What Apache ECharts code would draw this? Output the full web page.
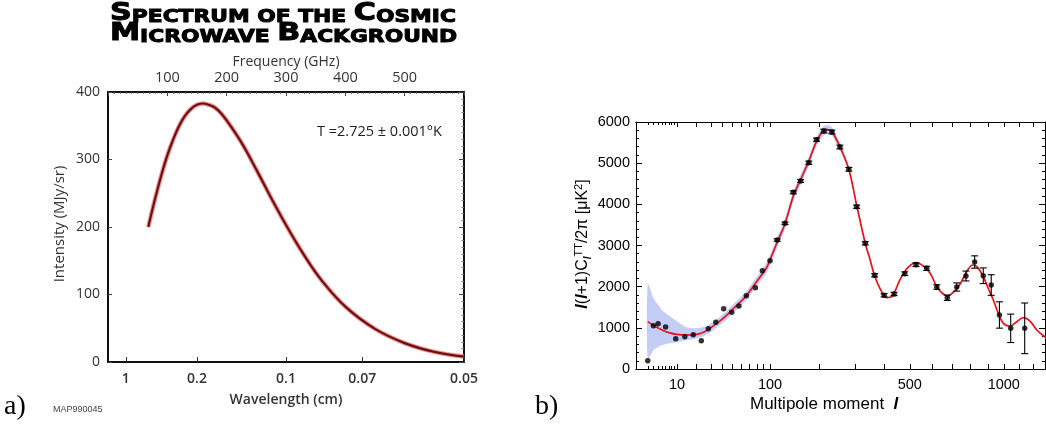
<!DOCTYPE html>
<html><head><meta charset="utf-8">
<script src="https://cdn.jsdelivr.net/npm/echarts@6/dist/echarts.min.js"></script>
<style>html,body{margin:0;padding:0;background:#fff}#c{width:1046px;height:425px}</style>
</head><body><div id="c"></div>
<script>
// ---------- Panel a: CMB spectrum ----------
const specFreq = [68,70,80,90,100,110,120,130,140,150,160,170,180,190,200,225,250,275,300,330,360,400,450,500,550,600];
const specInt  = [200,208,244,277,306,330,350,365,375,381,383,381,377,369,358,325,285,243,203,159,121,82,49,28,15,8];
const freqTickLabels = [100,200,300,400,500];
const wavelengthTicks = [1,0.2,0.1,0.07,0.05];     // cm
const intensityTicks = [0,100,200,300,400];

// ---------- Panel b: CMB TT power spectrum ----------
const curveL = [2,3,5,7,10,14,20,26,34,43,53,66,79,94,100,112,126,142,157,175,193,211,222,232,254,280,304,332,348,364,385,408,430,459,490,527,560,591,623,650,675,710,742,780,812,840,873,904,934,965,997,1041,1085,1131,1180,1226,1289,1320];
const curveV = [1150,1060,947,885,840,826,842,920,1090,1287,1513,1780,2105,2446,2650,3080,3530,4200,4600,5050,5530,5790,5810,5770,5400,4850,3980,3050,2660,2260,1930,1735,1780,2162,2450,2585,2500,2324,2000,1840,1773,1880,2065,2380,2526,2470,2242,1950,1676,1350,1110,1044,1150,1246,1150,947,770,700];

const bandL  = [2,3,4,5,7,10,14,20,26,34,43,53,66,79,94,112,126,142,157,175,193,211,222,232,254,280,304,332,364];
const bandHi = [2080,1720,1560,1430,1300,1160,1020,990,1040,1190,1390,1620,1890,2220,2570,3200,3650,4320,4720,5160,5640,5900,5920,5870,5500,4920,4040,3100,2290];
const bandLo = [220,460,530,580,620,650,700,740,820,990,1180,1400,1670,1990,2320,2960,3410,4080,4480,4940,5420,5680,5700,5670,5300,4780,3920,3000,2230];

const ptL   = [2,3,4,6,9.5,13.5,18,23,28,34,41,49,57,66,78,88,100,112,126,142,157,175,193,211,232,254,280,304,332,364,398,436,479,527,575,623,675,724,774,823,873,921,972,1045,1140];
const ptV   = [202,1052,1100,1020,736,785,833,687,979,1134,1465,1377,1530,1780,1975,2388,2630,3133,3539,4292,4566,5011,5570,5781,5757,5392,4851,3942,3053,2276,1790,1822,2315,2533,2445,1992,1732,1992,2259,2599,2266,2040,1312,988,988];
const ptErr = [0,0,0,0,0,0,0,0,0,0,0,0,0,0,0,0,0,30,30,35,35,40,40,45,45,45,45,40,40,40,40,40,45,45,50,55,65,100,120,150,190,250,320,345,615];

const lLabels = [10,100,500,1000];
const lTicksLong = [10,20,30,40,50,60,70,80,90,100,200,300,400,500,600,700,800,900,1000,1100,1200,1300];
const lTicksShort = [2,3,4,5,6,7,8,9];
const clTicks = [0,1000,2000,3000,4000,5000,6000];

const T = l => Math.pow(l, 0.4);   // axis scale used by panel b (l^0.4)
const waveToFreq = w => 30 / w;     // GHz for wavelength in cm

const chart = echarts.init(document.getElementById('c'));
const fa = 'Open Sans';
const fb = 'Liberation Sans';

const bAxisX = (pos, labels, ticks, len) => ({
  gridIndex: 1, type: 'value', min: 0.84, max: 17.53, position: pos,
  axisLine: { show: true, onZero: false, lineStyle: { color: '#000', width: 1 } },
  axisTick: { show: true, inside: true, length: len, customValues: ticks.map(T), lineStyle: { color: '#000', width: 1 } },
  axisLabel: labels ? { show: true, customValues: lLabels.map(T), formatter: v => String(Math.round(Math.pow(v, 2.5))), margin: 8, fontSize: 14.5, color: '#000', fontFamily: fb } : { show: false },
  splitLine: { show: false }
});

const option = {
  backgroundColor: '#fff',
  animation: false,
  grid: [
    { left: 108, right: 582, top: 92, bottom: 63 },
    { left: 636, right: 1, top: 122, bottom: 56 }
  ],
  xAxis: [
    { gridIndex: 0, type: 'value', min: 0, max: 600, position: 'bottom',
      axisLine: { show: true, onZero: false, lineStyle: { color: '#111', width: 2 } },
      axisTick: { show: true, inside: true, length: 5, customValues: wavelengthTicks.map(waveToFreq), lineStyle: { color: '#333' } },
      axisLabel: { show: true, customValues: wavelengthTicks.map(waveToFreq),
        formatter: v => { let best = 0; wavelengthTicks.forEach((w, i) => { if (Math.abs(waveToFreq(w) - v) < Math.abs(waveToFreq(wavelengthTicks[best]) - v)) best = i; }); return String(wavelengthTicks[best]); },
        margin: 10, fontSize: 14, color: '#333', fontFamily: fa, fontWeight: 600 },
      splitLine: { show: false } },
    { gridIndex: 0, type: 'value', min: 0, max: 600, interval: 100, position: 'top',
      axisLine: { show: true, onZero: false, lineStyle: { color: '#111', width: 2 } },
      axisTick: { show: true, inside: true, length: 4, lineStyle: { color: '#444' } },
      minorTick: { show: true, splitNumber: 10, length: 2, lineStyle: { color: '#666' } },
      axisLabel: { show: true, customValues: freqTickLabels, margin: 7, fontSize: 14.5, color: '#333', fontFamily: fa },
      splitLine: { show: false } },
    bAxisX('bottom', true, lTicksLong, 5),
    bAxisX('top', false, lTicksLong, 5),
    bAxisX('bottom', false, lTicksShort, 3),
    bAxisX('top', false, lTicksShort, 3)
  ],
  yAxis: [
    { gridIndex: 0, type: 'value', min: 0, max: 400, interval: 100, position: 'left',
      axisLine: { show: true, onZero: false, lineStyle: { color: '#111', width: 2 } },
      axisTick: { show: true, inside: true, length: 4, lineStyle: { color: '#444' } },
      axisLabel: { margin: 8, fontSize: 14, color: '#333', fontFamily: fa, formatter: v => String(v) },
      splitLine: { show: false } },
    { gridIndex: 0, type: 'value', min: 0, max: 400, interval: 100, position: 'right',
      axisLine: { show: true, onZero: false, lineStyle: { color: '#111', width: 2 } },
      axisTick: { show: true, inside: true, length: 5, lineStyle: { color: '#444' } },
      minorTick: { show: true, splitNumber: 10, length: 2.5, lineStyle: { color: '#777' } },
      axisLabel: { show: false }, splitLine: { show: false } },
    { gridIndex: 1, type: 'value', min: 0, max: 6000, interval: 1000, position: 'left',
      axisLine: { show: true, onZero: false, lineStyle: { color: '#000', width: 1 } },
      axisTick: { show: true, inside: true, length: 6, lineStyle: { color: '#000' } },
      minorTick: { show: true, splitNumber: 5, length: 3, lineStyle: { color: '#000' } },
      axisLabel: { margin: 6, fontSize: 14.5, color: '#000', fontFamily: fb, formatter: v => String(v) },
      splitLine: { show: false } },
    { gridIndex: 1, type: 'value', min: 0, max: 6000, interval: 1000, position: 'right',
      axisLine: { show: true, onZero: false, lineStyle: { color: '#000', width: 1 } },
      axisTick: { show: true, inside: true, length: 6, lineStyle: { color: '#000' } },
      minorTick: { show: true, splitNumber: 5, length: 3, lineStyle: { color: '#000' } },
      axisLabel: { show: false }, splitLine: { show: false } }
  ],
  series: [
    { type: 'line', xAxisIndex: 0, yAxisIndex: 0, data: specFreq.map((f, i) => [f, specInt[i]]),
      smooth: 0.4, symbol: 'none', lineStyle: { color: '#e8797a', width: 4.5, opacity: 0.8 }, z: 2, silent: true },
    { type: 'line', xAxisIndex: 0, yAxisIndex: 0, data: specFreq.map((f, i) => [f, specInt[i]]),
      smooth: 0.4, symbol: 'none', lineStyle: { color: '#6e0f12', width: 2.2 }, z: 3, silent: true },
    { type: 'custom', xAxisIndex: 2, yAxisIndex: 2, data: [[0, 0]], z: 1, silent: true, clip: true,
      renderItem: (params, api) => {
        const pts = [];
        bandL.forEach((l, i) => pts.push(api.coord([T(l), bandHi[i]])));
        for (let i = bandL.length - 1; i >= 0; i--) pts.push(api.coord([T(bandL[i]), bandLo[i]]));
        return { type: 'polygon', shape: { points: pts, smooth: 0.25 }, style: { fill: '#c3cdf5' } };
      } },
    { type: 'line', xAxisIndex: 2, yAxisIndex: 2, data: curveL.map((l, i) => [T(l), curveV[i]]),
      smooth: 0.35, symbol: 'none', lineStyle: { color: '#e3141b', width: 1.7 }, z: 3, silent: true, clip: true },
    { type: 'custom', xAxisIndex: 2, yAxisIndex: 2, data: ptL.map((l, i) => [T(l), ptV[i], ptErr[i]]), z: 4, silent: true,
      encode: { x: 0, y: 1 },
      renderItem: (params, api) => {
        const x = api.value(0), y = api.value(1), e = api.value(2);
        if (!e) return null;
        const a = api.coord([x, y + e]), b = api.coord([x, y - e]);
        const w = 3.5, st = { stroke: '#000', lineWidth: 1.1 };
        return { type: 'group', children: [
          { type: 'line', shape: { x1: a[0], y1: a[1], x2: b[0], y2: b[1] }, style: st },
          { type: 'line', shape: { x1: a[0] - w, y1: a[1], x2: a[0] + w, y2: a[1] }, style: st },
          { type: 'line', shape: { x1: b[0] - w, y1: b[1], x2: b[0] + w, y2: b[1] }, style: st }
        ] };
      } },
    { type: 'scatter', xAxisIndex: 2, yAxisIndex: 2, data: ptL.map((l, i) => [T(l), ptV[i]]),
      symbol: 'circle', symbolSize: 5.5, itemStyle: { color: '#000' }, z: 5, silent: true }
  ],
  graphic: [
    { type: 'text', x: 110, y: 4, scaleX: 1.21, silent: true,
      style: { text: '{b|S}{s|PECTRUM OF THE }{b|C}{s|OSMIC}', fill: '#000', stroke: '#000', lineWidth: 1,
        rich: { b: { fontSize: 25, fontWeight: 'bold', fontFamily: 'DejaVu Sans', verticalAlign: 'bottom', lineHeight: 22, fill: '#000' },
                s: { fontSize: 18, fontWeight: 'bold', fontFamily: 'DejaVu Sans', verticalAlign: 'bottom', lineHeight: 22, fill: '#000' } } } },
    { type: 'text', x: 110, y: 24, scaleX: 1.21, silent: true,
      style: { text: '{b|M}{s|ICROWAVE }{b|B}{s|ACKGROUND}', fill: '#000', stroke: '#000', lineWidth: 1,
        rich: { b: { fontSize: 25, fontWeight: 'bold', fontFamily: 'DejaVu Sans', verticalAlign: 'bottom', lineHeight: 22, fill: '#000' },
                s: { fontSize: 18, fontWeight: 'bold', fontFamily: 'DejaVu Sans', verticalAlign: 'bottom', lineHeight: 22, fill: '#000' } } } },
    { type: 'text', x: 286, y: 62, silent: true,
      style: { text: 'Frequency (GHz)', font: '14px "Open Sans"', fill: '#333', align: 'center', verticalAlign: 'middle' } },
    { type: 'text', x: 286, y: 400, silent: true,
      style: { text: 'Wavelength (cm)', font: '600 14px "Open Sans"', fill: '#333', align: 'center', verticalAlign: 'middle' } },
    { type: 'text', x: 60, y: 224, rotation: Math.PI / 2, silent: true,
      style: { text: 'Intensity (MJy/sr)', font: '15px "Open Sans"', fill: '#333', align: 'center', verticalAlign: 'middle' } },
    { type: 'text', x: 317, y: 132, silent: true,
      style: { text: 'T =2.725 ± 0.001°K', font: '14.5px "Open Sans"', fill: '#222', align: 'left', verticalAlign: 'middle' } },
    { type: 'text', x: 4, y: 407, silent: true,
      style: { text: 'a)', font: '28px "Liberation Serif"', fill: '#000', align: 'left', verticalAlign: 'middle' } },
    { type: 'text', x: 53, y: 410, silent: true,
      style: { text: 'MAP990045', font: '9px "Liberation Sans"', fill: '#444', align: 'left', verticalAlign: 'middle' } },
    { type: 'text', x: 535, y: 407, silent: true,
      style: { text: 'b)', font: '28px "Liberation Serif"', fill: '#000', align: 'left', verticalAlign: 'middle' } },
    { type: 'text', x: 750, y: 404, silent: true,
      style: { text: '{n|Multipole moment  }{l|l}', align: 'left', verticalAlign: 'middle',
        rich: { n: { fontSize: 17, fontFamily: fb, fill: '#000' }, l: { fontSize: 17, fontFamily: fb, fontStyle: 'italic', fontWeight: 'bold', fill: '#000' } } } },
    { type: 'text', x: 583, y: 244, rotation: Math.PI / 2, silent: true,
      style: { text: '{l|l}{n|(}{l|l}{n|+1)C}{sub|l}{sup|TT}{n|/2π [μK}{sup|2}{n|]}', align: 'center', verticalAlign: 'middle',
        rich: {
          n: { fontSize: 16, fontFamily: fb, fill: '#000', lineHeight: 20, verticalAlign: 'middle' },
          l: { fontSize: 16, fontFamily: fb, fontStyle: 'italic', fontWeight: 'bold', fill: '#000', lineHeight: 20, verticalAlign: 'middle' },
          sub: { fontSize: 10, fontFamily: fb, fontStyle: 'italic', fontWeight: 'bold', fill: '#000', lineHeight: 20, verticalAlign: 'bottom' },
          sup: { fontSize: 11, fontFamily: fb, fill: '#000', lineHeight: 20, verticalAlign: 'top' }
        } } }
  ]
};
chart.setOption(option);
</script>
</body></html>
